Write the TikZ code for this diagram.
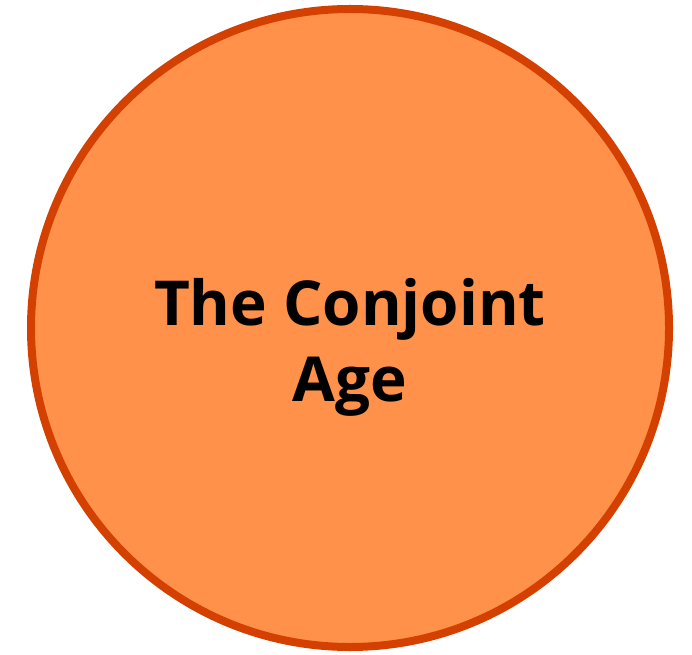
\documentclass[tikz,border=0pt]{standalone}
\usepackage{fontspec}
\setmainfont{Open Sans}
\definecolor{fillorange}{RGB}{255,145,75}
\definecolor{edgeorange}{RGB}{212,64,0}
\tikzset{agecircle/.style={circle,draw=edgeorange,fill=fillorange,line width=8pt,minimum size=638pt,inner sep=0pt},
agetext/.style={align=center,font=\bfseries\fontsize{62}{76}\selectfont,text=black}}
\begin{document}
\begin{tikzpicture}[x=1pt,y=1pt]
\useasboundingbox (0,0) rectangle (692,654);
\node[agecircle] (c) at (350,326) {};
\node[agetext] (t) at (350,307) {The Conjoint\\Age};
\end{tikzpicture}
\end{document}
